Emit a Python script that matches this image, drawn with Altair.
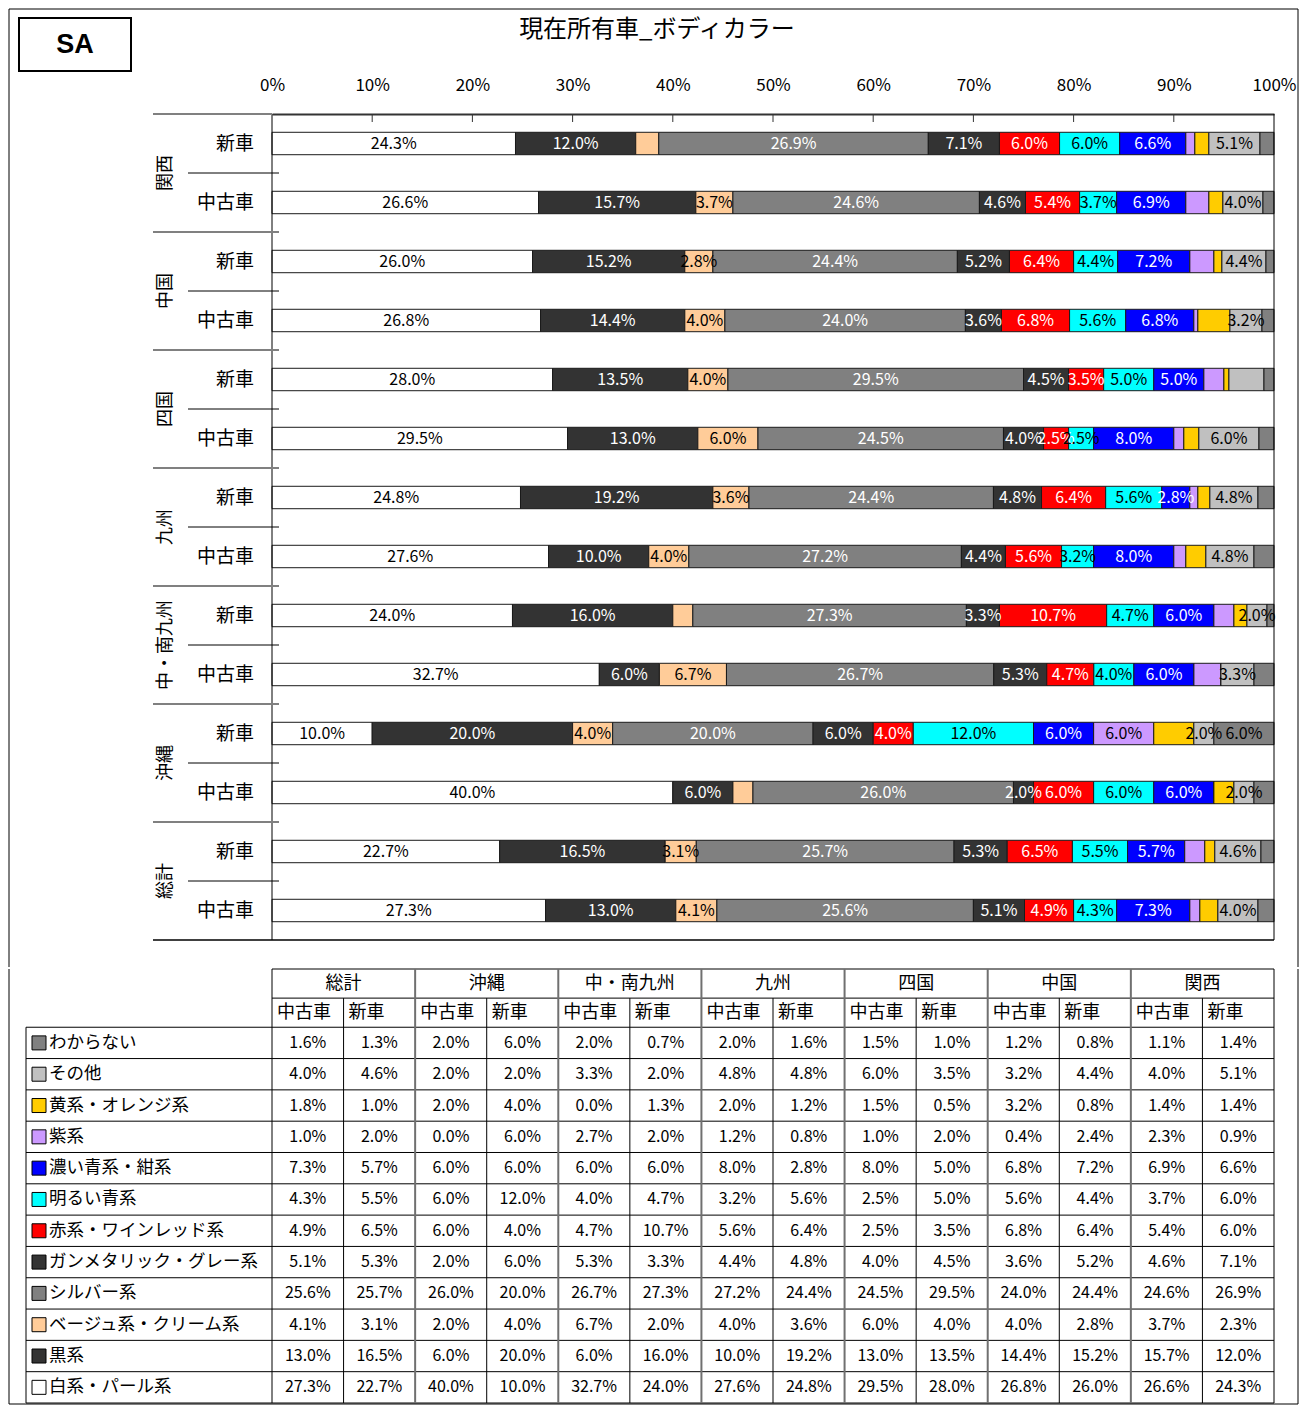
import altair as alt
import pandas as pd

FONT = "Noto Sans CJK JP"

# ---------------- data ----------------
regions = ["総計", "沖縄", "中・南九州", "九州", "四国", "中国", "関西"]
kinds = ["中古車", "新車"]
bar_regions = ["関西", "中国", "四国", "九州", "中・南九州", "沖縄", "総計"]
bar_kinds = ["新車", "中古車"]

categories = ["わからない", "その他", "黄系・オレンジ系", "紫系", "濃い青系・紺系", "明るい青系",
              "赤系・ワインレッド系", "ガンメタリック・グレー系", "シルバー系",
              "ベージュ系・クリーム系", "黒系", "白系・パール系"]
colors = ["#808080", "#C0C0C0", "#FFCC00", "#CC99FF", "#0000FF", "#00FFFF",
          "#FF0000", "#333333", "#808080", "#FFCC99", "#333333", "#FFFFFF"]
text_colors = ["black", "black", "black", "black", "white", "black",
               "white", "white", "white", "black", "white", "black"]

# columns: 総計(中古車,新車), 沖縄, 中・南九州, 九州, 四国, 中国, 関西
v_unknown = [1.6, 1.3, 2.0, 6.0, 2.0, 0.7, 2.0, 1.6, 1.5, 1.0, 1.2, 0.8, 1.1, 1.4]
v_other = [4.0, 4.6, 2.0, 2.0, 3.3, 2.0, 4.8, 4.8, 6.0, 3.5, 3.2, 4.4, 4.0, 5.1]
v_yellow = [1.8, 1.0, 2.0, 4.0, 0.0, 1.3, 2.0, 1.2, 1.5, 0.5, 3.2, 0.8, 1.4, 1.4]
v_purple = [1.0, 2.0, 0.0, 6.0, 2.7, 2.0, 1.2, 0.8, 1.0, 2.0, 0.4, 2.4, 2.3, 0.9]
v_navy = [7.3, 5.7, 6.0, 6.0, 6.0, 6.0, 8.0, 2.8, 8.0, 5.0, 6.8, 7.2, 6.9, 6.6]
v_lightblue = [4.3, 5.5, 6.0, 12.0, 4.0, 4.7, 3.2, 5.6, 2.5, 5.0, 5.6, 4.4, 3.7, 6.0]
v_red = [4.9, 6.5, 6.0, 4.0, 4.7, 10.7, 5.6, 6.4, 2.5, 3.5, 6.8, 6.4, 5.4, 6.0]
v_gunmetal = [5.1, 5.3, 2.0, 6.0, 5.3, 3.3, 4.4, 4.8, 4.0, 4.5, 3.6, 5.2, 4.6, 7.1]
v_silver = [25.6, 25.7, 26.0, 20.0, 26.7, 27.3, 27.2, 24.4, 24.5, 29.5, 24.0, 24.4, 24.6, 26.9]
v_beige = [4.1, 3.1, 2.0, 4.0, 6.7, 2.0, 4.0, 3.6, 6.0, 4.0, 4.0, 2.8, 3.7, 2.3]
v_black = [13.0, 16.5, 6.0, 20.0, 6.0, 16.0, 10.0, 19.2, 13.0, 13.5, 14.4, 15.2, 15.7, 12.0]
v_white = [27.3, 22.7, 40.0, 10.0, 32.7, 24.0, 27.6, 24.8, 29.5, 28.0, 26.8, 26.0, 26.6, 24.3]

values = [v_unknown, v_other, v_yellow, v_purple, v_navy, v_lightblue, v_red,
          v_gunmetal, v_silver, v_beige, v_black, v_white]

# which in-bar labels are shown
label_min = 2.5
label_min_small = 2.0
small_label_cats = ["その他", "ガンメタリック・グレー系"]
never_label_cats = ["黄系・オレンジ系"]
hidden_labels = [("四国", "新車", "その他"), ("中・南九州", "中古車", "紫系")]

axis_ticks = list(range(0, 101, 10))

# ---------------- build tables ----------------
bar_rows, lab_rows = [], []
for ri, reg in enumerate(bar_regions):
    for ki, kd in enumerate(bar_kinds):
        row = 2 * ri + ki
        col = regions.index(reg) * 2 + kinds.index(kd)
        total = sum(values[c][col] for c in range(len(categories)))
        cum = 0.0
        for c in reversed(range(len(categories))):
            v = values[c][col]
            x0 = cum / total * 100
            cum += v
            x1 = cum / total * 100
            cat = categories[c]
            bar_rows.append(dict(cat=cat, x0=x0, x1=x1, y0=row + 0.31, y1=row + 0.69))
            show = (cat not in never_label_cats and
                    (v >= label_min or (v >= label_min_small and cat in small_label_cats)) and
                    (reg, kd, cat) not in hidden_labels)
            if show and v > 0:
                lab_rows.append(dict(xm=(x0 + x1) / 2, ym=row + 0.5, label=f"{v:.1f}%",
                                     tc=text_colors[c]))

bars_df = pd.DataFrame(bar_rows)
labs_df = pd.DataFrame(lab_rows)
sub_df = pd.DataFrame([dict(y=2 * ri + ki + 0.5, t=kd)
                       for ri in range(len(bar_regions)) for ki, kd in enumerate(bar_kinds)])
grp_df = pd.DataFrame([dict(y=2 * ri + 1, t=reg) for ri, reg in enumerate(bar_regions)])
one = pd.DataFrame({"d": [0]})

FRAME_L, FRAME_R, FRAME_T = -263, 1026, -105

xscale = alt.Scale(domain=[0, 100], nice=False, zero=False)
yscale = alt.Scale(domain=[0, 14], reverse=True, nice=False, zero=False)
xaxis = alt.Axis(orient="top", values=axis_ticks, labelExpr="datum.value + '%'",
                 ticks=False, grid=False, title=None, labelFont=FONT, labelFontSize=17,
                 labelColor="black", labelPadding=20, labelFlush=False,
                 domainColor="#333333", domainWidth=2)


def X(f):
    return alt.X(f, type="quantitative", scale=xscale, axis=xaxis)


def Y(f):
    return alt.Y(f, type="quantitative", scale=yscale, axis=None)


color_scale = alt.Scale(domain=categories, range=colors)

bars = alt.Chart(bars_df).mark_rect(stroke="#1a1a1a", strokeWidth=1).encode(
    x=X("x0"), x2="x1", y=Y("y0"), y2="y1",
    color=alt.Color("cat:N", scale=color_scale, legend=None))

lab_w = alt.Chart(labs_df[labs_df.tc == "white"]).mark_text(
    font=FONT, fontSize=16, color="white").encode(x=X("xm"), y=Y("ym"), text="label:N")
lab_b = alt.Chart(labs_df[labs_df.tc == "black"]).mark_text(
    font=FONT, fontSize=16, color="black").encode(x=X("xm"), y=Y("ym"), text="label:N")

ticks = alt.Chart(pd.DataFrame({"x": axis_ticks[1:-1]})).mark_rule(
    color="#333333", strokeWidth=1).encode(x=X("x"), y=alt.value(0), y2=alt.value(8))

vlines = alt.Chart(pd.DataFrame({"x": [0, 100], "y0": [0, 0], "y1": [14, 14]})).mark_rule(
    color="black", strokeWidth=1).encode(x=X("x"), y=Y("y0"), y2="y1")

grp_lines = alt.Chart(pd.DataFrame({"y": list(range(2, 14, 2))})).mark_rule(
    color="#808080", strokeWidth=2).encode(y=Y("y"), x=alt.value(-119), x2=alt.value(7))
top_line = alt.Chart(pd.DataFrame({"y": [0]})).mark_rule(
    color="#808080", strokeWidth=2).encode(y=Y("y"), x=alt.value(-119), x2=alt.value(0))
bottom_line = alt.Chart(pd.DataFrame({"y": [14]})).mark_rule(
    color="black", strokeWidth=1.5).encode(y=Y("y"), x=alt.value(-119), x2=alt.value(1002))
sub_lines = alt.Chart(pd.DataFrame({"y": list(range(1, 14, 2))})).mark_rule(
    color="black", strokeWidth=1).encode(y=Y("y"), x=alt.value(-84), x2=alt.value(7))

sub_text = alt.Chart(sub_df).mark_text(font=FONT, fontSize=19, align="right").encode(
    y=Y("y"), x=alt.value(-18), text="t:N")
grp_text = alt.Chart(grp_df).mark_text(font=FONT, fontSize=18, angle=270).encode(
    y=Y("y"), x=alt.value(-106), text="t:N")

title = alt.Chart(one).mark_text(font=FONT, fontSize=24, text="現在所有車_ボディカラー").encode(
    x=alt.value(385), y=alt.value(-84))
sa_box = alt.Chart(one).mark_rect(fill="white", stroke="black", strokeWidth=2).encode(
    x=alt.value(-253), x2=alt.value(-141), y=alt.value(-96), y2=alt.value(-43))
sa_text = alt.Chart(one).mark_text(font="Liberation Sans", fontWeight="bold", fontSize=27,
                                   text="SA").encode(x=alt.value(-197), y=alt.value(-69))

frame_top = [
    alt.Chart(one).mark_rule(color="black", strokeWidth=1).encode(
        x=alt.value(FRAME_L), x2=alt.value(FRAME_R), y=alt.value(FRAME_T)),
    alt.Chart(one).mark_rule(color="black", strokeWidth=1).encode(
        x=alt.value(FRAME_L), y=alt.value(FRAME_T), y2=alt.value(853)),
    alt.Chart(one).mark_rule(color="black", strokeWidth=1).encode(
        x=alt.value(FRAME_R), y=alt.value(FRAME_T), y2=alt.value(853)),
]

top = alt.layer(bars, lab_w, lab_b, ticks, vlines, grp_lines, top_line, bottom_line,
                sub_lines, sub_text, grp_text, title, sa_box, sa_text, *frame_top
                ).properties(width=1002, height=826)

# ---------------- table ----------------
hdr_h = 0.93              # header row height relative to a data row
n_rows = len(categories)
y_top_data = 2 * hdr_h
y_end = y_top_data + n_rows
TABLE_H = 434

tx = alt.Scale(domain=[0, 14], nice=False, zero=False)
ty = alt.Scale(domain=[0, y_end], reverse=True, nice=False, zero=False)


def TX(f):
    return alt.X(f, type="quantitative", scale=tx, axis=None)


def TY(f):
    return alt.Y(f, type="quantitative", scale=ty, axis=None)


cell_rows = []
for c, cat in enumerate(categories):
    for col in range(14):
        cell_rows.append(dict(x=col + 0.5, y=y_top_data + c + 0.5, t=f"{values[c][col]:.1f}%"))
cells_df = pd.DataFrame(cell_rows)
hdr1_df = pd.DataFrame([dict(x=2 * i + 1, y=hdr_h / 2, t=r) for i, r in enumerate(regions)])
hdr2_df = pd.DataFrame([dict(x=i + 0.07, y=hdr_h * 1.5, t=kinds[i % 2]) for i in range(14)])
rowlab_df = pd.DataFrame([dict(y=y_top_data + c + 0.5, t=cat, cat=cat)
                          for c, cat in enumerate(categories)])

h_ys = [0, hdr_h] + [y_top_data + i for i in range(n_rows + 1)]
hl = alt.Chart(pd.DataFrame({"y": h_ys, "x0": 0, "x1": 14})).mark_rule(
    color="black", strokeWidth=1).encode(x=TX("x0"), x2="x1", y=TY("y"))
hl_lab = alt.Chart(pd.DataFrame({"y": [y_top_data + i for i in range(n_rows + 1)]})).mark_rule(
    color="black", strokeWidth=1).encode(y=TY("y"), x=alt.value(-246), x2=alt.value(0))
vl_thin = alt.Chart(pd.DataFrame({"x": list(range(1, 14, 2)), "y0": hdr_h, "y1": y_end})).mark_rule(
    color="black", strokeWidth=1).encode(x=TX("x"), y=TY("y0"), y2="y1")
vl_edge = alt.Chart(pd.DataFrame({"x": [0, 14], "y0": 0, "y1": y_end})).mark_rule(
    color="black", strokeWidth=1).encode(x=TX("x"), y=TY("y0"), y2="y1")
vl_grp = alt.Chart(pd.DataFrame({"x": list(range(2, 13, 2)), "y0": 0, "y1": y_end})).mark_rule(
    color="#707070", strokeWidth=2).encode(x=TX("x"), y=TY("y0"), y2="y1")
vl_lab = alt.Chart(pd.DataFrame({"y0": [y_top_data], "y1": [y_end]})).mark_rule(
    color="black", strokeWidth=1).encode(x=alt.value(-246), y=TY("y0"), y2="y1")

hdr1 = alt.Chart(hdr1_df).mark_text(font=FONT, fontSize=18).encode(
    x=TX("x"), y=TY("y"), text="t:N")
hdr2 = alt.Chart(hdr2_df).mark_text(font=FONT, fontSize=18, align="left").encode(
    x=TX("x"), y=TY("y"), text="t:N")
cells = alt.Chart(cells_df).mark_text(font=FONT, fontSize=16).encode(
    x=TX("x"), y=TY("y"), text="t:N")
squares = alt.Chart(rowlab_df).mark_square(size=196, stroke="black", strokeWidth=1,
                                            opacity=1).encode(
    y=TY("y"), x=alt.value(-233),
    color=alt.Color("cat:N", scale=color_scale, legend=None))
rowlab = alt.Chart(rowlab_df).mark_text(font=FONT, fontSize=17.5, align="left").encode(
    y=TY("y"), x=alt.value(-223), text="t:N")

frame_bot = [
    alt.Chart(one).mark_rule(color="black", strokeWidth=1).encode(
        x=alt.value(FRAME_L), x2=alt.value(FRAME_R), y=alt.value(TABLE_H + 1)),
    alt.Chart(one).mark_rule(color="black", strokeWidth=1).encode(
        x=alt.value(FRAME_L), y=alt.value(0), y2=alt.value(TABLE_H + 1)),
    alt.Chart(one).mark_rule(color="black", strokeWidth=1).encode(
        x=alt.value(FRAME_R), y=alt.value(0), y2=alt.value(TABLE_H + 1)),
]

table = alt.layer(hl, hl_lab, vl_thin, vl_grp, vl_edge, vl_lab, hdr1, hdr2, cells,
                  squares, rowlab, *frame_bot).properties(width=1002, height=TABLE_H)

chart = alt.vconcat(top, table, spacing=0).resolve_scale(
    x="independent", y="independent", color="independent"
).properties(padding=0).configure_view(stroke=None)

chart.save("out.html", embed_options={"renderer": "svg", "actions": False})
